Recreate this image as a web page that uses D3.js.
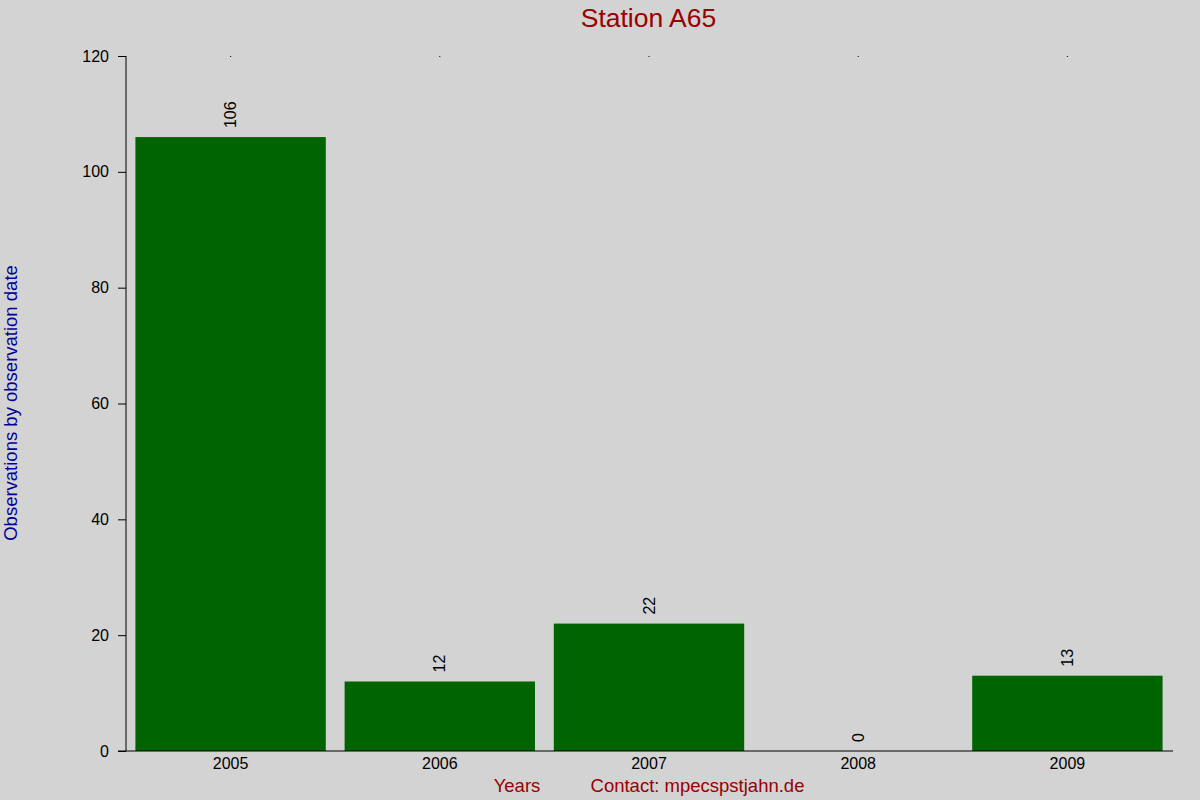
<!DOCTYPE html>
<html>
<head>
	<title>Station A65</title>
	<meta charset="utf-8">
	<script src="https://d3js.org/d3.v7.min.js"></script>
	<style>
		body { margin: 0; background: #d3d3d3; }
		text { font-family: "Liberation Sans", Arial, sans-serif; }
	</style>
</head>
<body>
	<script type="text/javascript">
		var years = ["2005", "2006", "2007", "2008", "2009"]
		var counts = [106, 12, 22, 0, 13]
		var yTicks = [0, 20, 40, 60, 80, 100, 120]

		var width = 1200
		var height = 800
		var margin = {left: 126, right: 28, top: 56, bottom: 49}

		var svg = d3.select("body").append("svg")
		  .attr("width", width)
		  .attr("height", height)
		  .style("background", "#d3d3d3")

		var x = d3.scaleBand()
			.domain(years)
			.range([margin.left, width - margin.right])
			.paddingInner(0.09)
			.paddingOuter(0.045)

		var y = d3.scaleLinear()
			.domain([0, 120])
			.range([height - margin.bottom, margin.top])

		// bars
		svg.selectAll("rect.bar")
		  .data(counts)
		  .enter()
		  .append("rect")
			.attr("class", "bar")
			.attr("x", (d, i) => x(years[i]))
			.attr("width", x.bandwidth())
			.attr("y", d => y(d))
			.attr("height", d => y(0) - y(d))
			.attr("fill", "#006400")

		// value labels, rotated
		svg.selectAll("text.val")
		  .data(counts)
		  .enter()
		  .append("text")
			.attr("class", "val")
			.attr("transform", (d, i) => "translate(" + (x(years[i]) + x.bandwidth() / 2 + 5.5) + "," + (y(d) - 9) + ") rotate(-90)")
			.attr("font-size", 16)
			.attr("fill", "#000")
			.text(d => d)

		// y axis
		var yAxis = d3.axisLeft(y).tickValues(yTicks).tickSize(8).tickPadding(9)
		var gy = svg.append("g")
			.attr("transform", "translate(" + margin.left + ",0)")
			.call(yAxis)
		gy.select(".domain").attr("d", "M0," + y(120) + "V" + y(0))
		gy.selectAll("text").attr("font-size", 16).attr("font-family", "Liberation Sans, Arial, sans-serif").attr("fill", "#000")

		// x axis
		var xAxis = d3.axisBottom(x).tickSize(0).tickPadding(7)
		var gx = svg.append("g")
			.attr("transform", "translate(0," + y(0) + ")")
			.call(xAxis)
		gx.select(".domain").attr("d", "M" + (margin.left - 8) + ",0H" + (width - margin.right + 1))
		gx.selectAll("text").attr("font-size", 16).attr("font-family", "Liberation Sans, Arial, sans-serif").attr("fill", "#000")

		// small top marks
		svg.selectAll("rect.topmark")
		  .data(years)
		  .enter()
		  .append("rect")
			.attr("class", "topmark")
			.attr("x", d => x(d) + x.bandwidth() / 2 - 0.5)
			.attr("y", y(120))
			.attr("width", 1)
			.attr("height", 1)
			.attr("fill", "#000")

		// titles
		svg.append("text")
			.attr("x", 648.5)
			.attr("y", 27)
			.attr("text-anchor", "middle")
			.attr("font-size", 26.5)
			.attr("fill", "#990000")
			.text("Station A65")

		svg.append("text")
			.attr("transform", "translate(17,403) rotate(-90)")
			.attr("text-anchor", "middle")
			.attr("font-size", 18.5)
			.attr("fill", "#000099")
			.text("Observations by observation date")

		svg.append("text")
			.attr("x", 517)
			.attr("y", 792)
			.attr("text-anchor", "middle")
			.attr("font-size", 18.5)
			.attr("fill", "#990000")
			.text("Years")

		svg.append("text")
			.attr("x", 697.5)
			.attr("y", 792)
			.attr("text-anchor", "middle")
			.attr("font-size", 18.5)
			.attr("fill", "#990000")
			.text("Contact: mpecspstjahn.de")
	</script>
</body>
</html>
